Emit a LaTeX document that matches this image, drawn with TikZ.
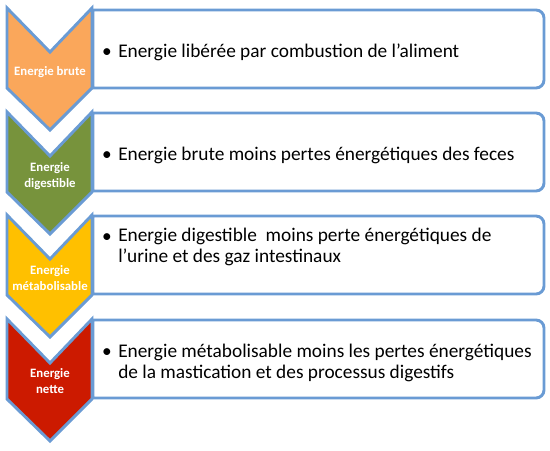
\documentclass[tikz,border=0pt]{standalone}
\usepackage{fontspec}
\setmainfont{Carlito}
\definecolor{edge}{HTML}{6A9BD4}
\definecolor{corange}{HTML}{FAA75B}
\definecolor{cgreen}{HTML}{77933C}
\definecolor{cyellow}{HTML}{FFC000}
\definecolor{cred}{HTML}{CC1A00}
\tikzset{
  chev/.style={draw=edge, line width=2.2pt, line join=miter},
  box/.style={draw=edge, line width=2.2pt, fill=white},
  lbl/.style={text=white, font=\fontsize{9.6}{11.3}\selectfont\bfseries, align=center, inner sep=0pt, anchor=base},
  txt/.style={font=\fontsize{14.5}{15.5}\selectfont, align=left, inner sep=0pt, anchor=base west},
  bul/.style={font=\fontsize{14.5}{15.5}\selectfont, inner sep=0pt, anchor=base}
}
\newcommand{\boxat}[1]{%
  \path[box] (93,#1) -- (536,#1) arc[start angle=90,end angle=0,radius=6pt]
    -- (544,#1+70) arc[start angle=0,end angle=-90,radius=6pt] -- (93,#1+78) -- cycle;}
\newcommand{\chevat}[2]{%
  \path[chev, fill=#2] (7,#1) -- (50,#1+44) -- (92,#1) -- (92,#1+80) -- (50,#1+122) -- (7,#1+80) -- cycle;}
\begin{document}
\begin{tikzpicture}[x=0.75pt,y=-0.75pt]
\useasboundingbox (0,0) rectangle (550,450);
\boxat{10}
\boxat{113}
\boxat{216}
\boxat{320}
\chevat{8}{corange}
\chevat{112}{cgreen}
\chevat{215}{cyellow}
\chevat{319}{cred}
\node[lbl] (c1) at (50,75) {Energie brute};
\node[lbl] (c2) at (50,187) {Energie\\digestible};
\node[lbl] (c3) at (50,290) {Energie\\métabolisable};
\node[lbl] (c4) at (50,393) {Energie\\nette};
\node[bul] (b1) at (107,57) {\textbullet};
\node[bul] (b2) at (107,160) {\textbullet};
\node[bul] (b3) at (107,242) {\textbullet};
\node[bul] (b4) at (107,357) {\textbullet};
\node[txt] (t1) at (118,57) {Energie libérée par combustion de l’aliment};
\node[txt] (t2) at (118,160) {Energie brute moins pertes énergétiques des feces};
\node[txt] (t3) at (118,262) {Energie digestible\ \ moins perte énergétiques de\\l’urine et des gaz intestinaux};
\node[txt] (t4) at (118,378) {Energie métabolisable moins les pertes énergétiques\\de la mastication et des processus digestifs};
\end{tikzpicture}
\end{document}
